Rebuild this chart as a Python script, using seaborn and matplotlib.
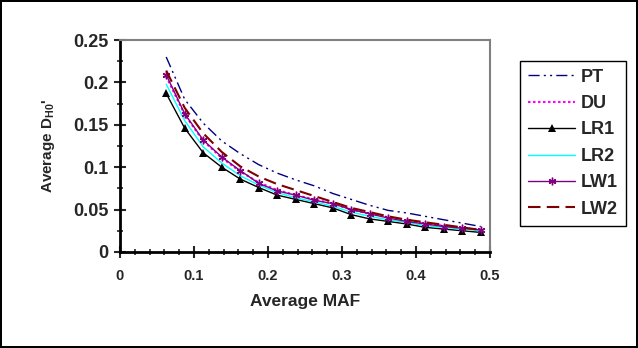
import numpy as np
import pandas as pd
import matplotlib
matplotlib.use("Agg")
import matplotlib.pyplot as plt
from matplotlib.ticker import MultipleLocator, FuncFormatter
import seaborn as sns

# average MAF per bin
maf = [0.0625, 0.0875, 0.1125, 0.1375, 0.1625, 0.1875, 0.2125, 0.2375, 0.2625,
       0.2875, 0.3125, 0.3375, 0.3625, 0.3875, 0.4125, 0.4375, 0.4625, 0.4875]

# average D_H0' for each method
pt = [0.230, 0.180, 0.152, 0.131, 0.116, 0.103, 0.093, 0.085, 0.078,
      0.069, 0.062, 0.055, 0.049, 0.046, 0.042, 0.038, 0.034, 0.030]
du = [0.207, 0.162, 0.131, 0.111, 0.095, 0.082, 0.073, 0.067, 0.062,
      0.057, 0.050, 0.045, 0.041, 0.037, 0.033, 0.031, 0.028, 0.026]
lr1 = [0.187, 0.146, 0.117, 0.100, 0.086, 0.076, 0.067, 0.062, 0.057,
       0.052, 0.044, 0.039, 0.036, 0.033, 0.029, 0.027, 0.025, 0.023]
lr2 = [0.198, 0.155, 0.124, 0.105, 0.090, 0.079, 0.070, 0.064, 0.059,
       0.054, 0.047, 0.042, 0.038, 0.035, 0.031, 0.029, 0.027, 0.025]
lw1 = [0.209, 0.163, 0.132, 0.112, 0.096, 0.081, 0.072, 0.067, 0.061,
       0.057, 0.050, 0.045, 0.040, 0.036, 0.033, 0.030, 0.028, 0.026]
lw2 = [0.214, 0.170, 0.140, 0.118, 0.101, 0.089, 0.080, 0.073, 0.066,
       0.059, 0.052, 0.047, 0.042, 0.038, 0.035, 0.032, 0.029, 0.026]

sns.set_style("white")
plt.rcParams["font.family"] = ["Liberation Sans", "DejaVu Sans"]
plt.rcParams["font.weight"] = "bold"
plt.rcParams["mathtext.fontset"] = "custom"
plt.rcParams["mathtext.rm"] = "Liberation Sans:bold"

fig = plt.figure(figsize=(6.38, 3.48), dpi=100)
fig.patch.set_edgecolor("black")
fig.patch.set_linewidth(1.5)
ax = fig.add_axes([0.188, 0.276, 0.580, 0.609])

#style per series
styles = [
    ("PT", pt, dict(color="#000080", linestyle=(0, (8, 3, 1.5, 3, 1.5, 3)), linewidth=1)),
    ("DU", du, dict(color="#FF00FF", linestyle=(0, (1.2, 1.2)), linewidth=1.5)),
    ("LR1", lr1, dict(color="black", linewidth=1, marker="^", markersize=6,
                      markeredgewidth=0, markerfacecolor="black")),
    ("LR2", lr2, dict(color="#00FFFF", linewidth=1)),
    ("LW1", lw1, dict(color="#800080", linewidth=1, marker=(6, 2, 0), markersize=5.5,
                      markeredgewidth=1, markeredgecolor="#800080")),
    ("LW2", lw2, dict(color="#800000", linestyle=(0, (6, 3)), linewidth=1.5)),
]
for name, vals, kw in styles:
    sns.lineplot(x=maf, y=vals, ax=ax, label=name, **kw)

ax.set_xlim(0, 0.5)
ax.set_ylim(0, 0.25)
ax.xaxis.set_major_locator(MultipleLocator(0.1))
ax.xaxis.set_minor_locator(MultipleLocator(0.02))
ax.yaxis.set_major_locator(MultipleLocator(0.05))
ax.yaxis.set_minor_locator(MultipleLocator(0.025))
fmt = FuncFormatter(lambda v, p: "%g" % round(v, 3))
ax.xaxis.set_major_formatter(fmt)
ax.yaxis.set_major_formatter(fmt)
ax.tick_params(axis="both", which="major", direction="inout", length=8, width=1.5)
ax.tick_params(axis="both", which="minor", direction="inout", length=5, width=1.2)
ax.tick_params(axis="x", labelsize=10.5, pad=8)
ax.tick_params(axis="y", labelsize=13, pad=4)
ax.tick_params(bottom=True, left=True, which="both")

for s in ["left", "bottom"]:
    ax.spines[s].set_color("black")
    ax.spines[s].set_linewidth(2)
for s in ["top", "right"]:
    ax.spines[s].set_color("#808080")
    ax.spines[s].set_linewidth(1.5)

ax.set_xlabel("Average MAF", fontsize=12.5, fontweight="bold", labelpad=8)
ax.set_ylabel(r"Average D$_{\mathrm{H0}}$'", fontsize=11, fontweight="bold", labelpad=12)

leg = ax.legend(loc="upper left", bbox_to_anchor=(0.815, 0.826), bbox_transform=fig.transFigure,
                frameon=True, fancybox=False, framealpha=1, edgecolor="black",
                prop={"size": 13, "weight": "bold"}, handlelength=2.6,
                labelspacing=0.52, handletextpad=0.3, borderpad=0.45, borderaxespad=0)
leg.get_frame().set_linewidth(1)

fig.savefig("out.png", dpi=100, edgecolor=fig.get_edgecolor())
